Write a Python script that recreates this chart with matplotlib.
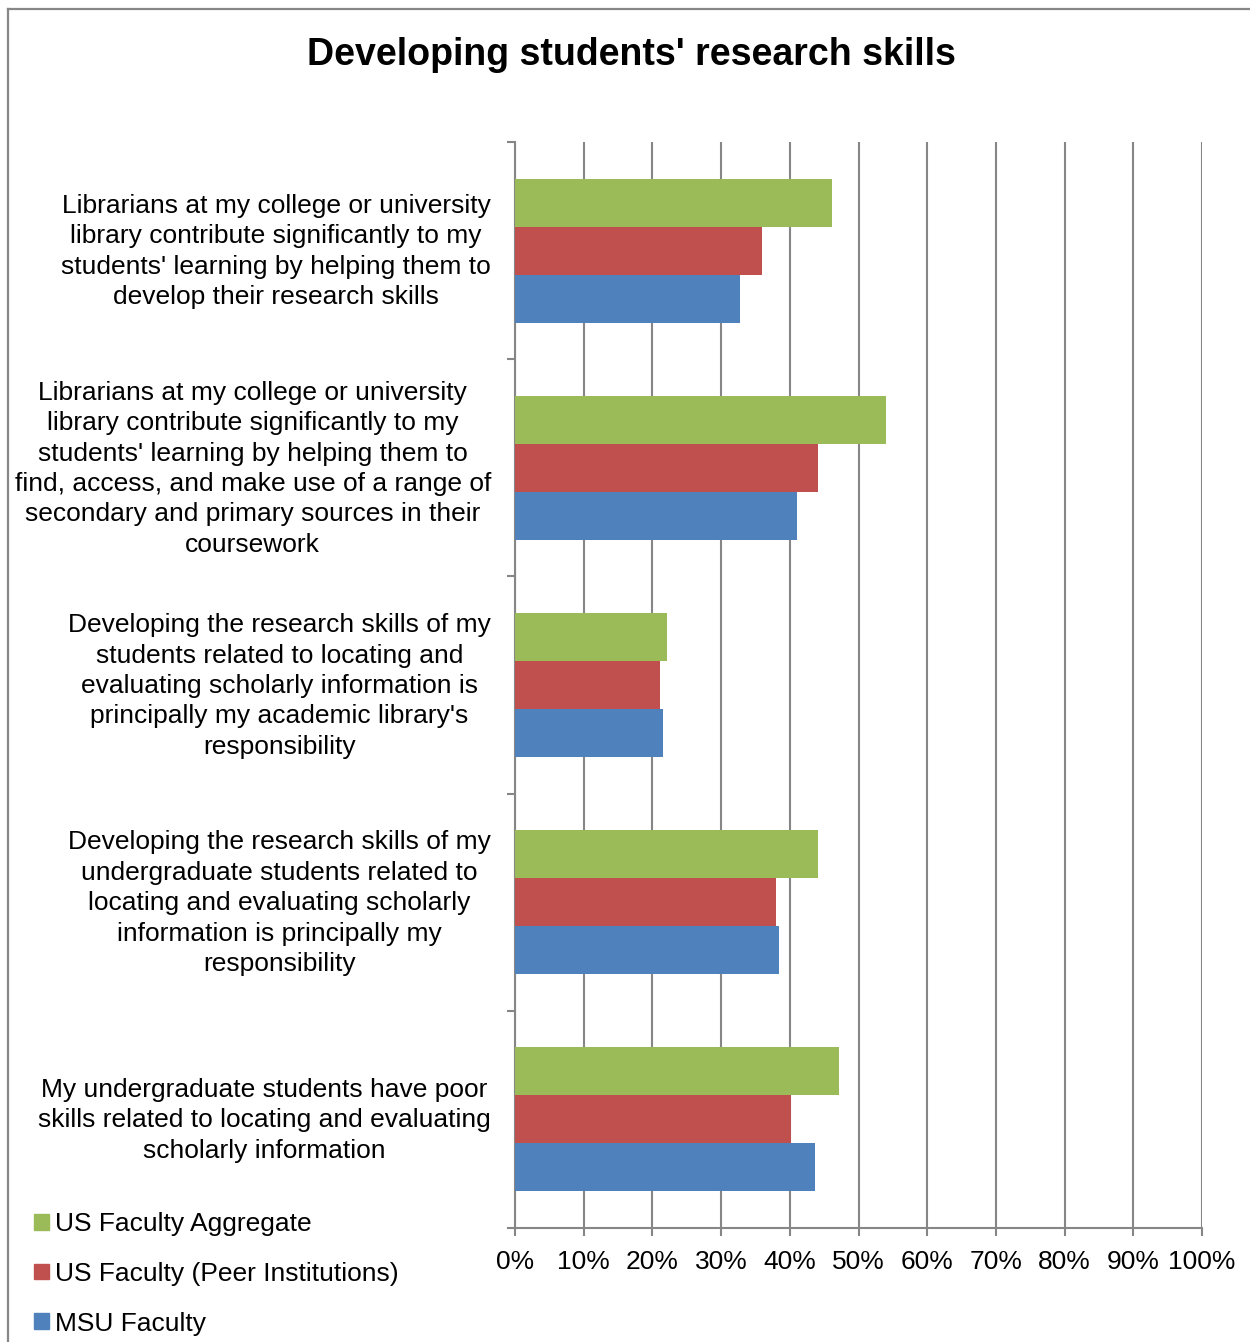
import numpy as np
import matplotlib.pyplot as plt
from matplotlib.lines import Line2D
from matplotlib.patches import Patch
from matplotlib.transforms import ScaledTranslation

plt.rcParams['font.family'] = ['Liberation Sans', 'DejaVu Sans']

categories = [
    "Librarians at my college or university\nlibrary contribute significantly to my\nstudents' learning by helping them to\ndevelop their research skills",
    "Librarians at my college or university\nlibrary contribute significantly to my\nstudents' learning by helping them to\nfind, access, and make use of a range of\nsecondary and primary sources in their\ncoursework",
    "Developing the research skills of my\nstudents related to locating and\nevaluating scholarly information is\nprincipally my academic library's\nresponsibility",
    "Developing the research skills of my\nundergraduate students related to\nlocating and evaluating scholarly\ninformation is principally my\nresponsibility",
    "My undergraduate students have poor\nskills related to locating and evaluating\nscholarly information",
]
series_names = ["US Faculty Aggregate", "US Faculty (Peer Institutions)", "MSU Faculty"]
us_aggregate = [46.1, 54.0, 22.1, 44.1, 47.2]
us_peer = [36.0, 44.1, 21.1, 38.0, 40.2]
msu = [32.7, 41.0, 21.5, 38.4, 43.7]
colors = ["#9BBB59", "#C0504D", "#4F81BD"]
xticks = [0, 10, 20, 30, 40, 50, 60, 70, 80, 90, 100]

W, H = 1250, 1342
fig = plt.figure(figsize=(W / 100, H / 100), dpi=100)
ax = fig.add_axes([515 / W, 1 - 1228 / H, (1202 - 515) / W, (1228 - 142) / H])

y = np.arange(len(categories))
h = 48 / 217
for i, (vals, c) in enumerate(zip([us_aggregate, us_peer, msu], colors)):
    ax.barh(y + (i - 1) * h, vals, height=h, color=c, label=series_names[i],
            zorder=3)

ax.set_xlim(0, 100)
ax.set_ylim(len(categories) - 0.5, -0.5)

grid_c = "#868686"
ax.set_xticks(xticks)
ax.set_xticklabels([f"{t}%" for t in xticks], fontsize=19)
ax.xaxis.grid(True, color=grid_c, linewidth=1.5, zorder=0)

ax.set_yticks(np.arange(len(categories) + 1) - 0.5)
ax.set_yticklabels([])
# category labels, right edge just left of the axis
for yi, txt in zip(y, categories):
    ax.text(-24 / 687 * 100, yi, txt, fontsize=19, ha="right", va="center",
            multialignment="center", linespacing=1.34,
            transform=ax.transData + ScaledTranslation(0, -0.01, fig.dpi_scale_trans))
ax.tick_params(axis="y", which="major", length=5.5, width=1.5, color=grid_c)
ax.tick_params(axis="x", length=5.5, width=1.5, color=grid_c, pad=10)

for s in ["top", "right"]:
    ax.spines[s].set_visible(False)
for s in ["left", "bottom"]:
    ax.spines[s].set_color(grid_c)
    ax.spines[s].set_linewidth(1.5)

fig.text(631 / W, 1 - 55 / H, "Developing students' research skills",
         fontsize=27, fontweight="bold", ha="center", va="center")

handles = [Patch(color=c) for c in colors]
fig.legend(handles, series_names, loc="upper left",
           bbox_to_anchor=(34 / W, 1 - 1212 / H), frameon=False,
           fontsize=19, handlelength=0.55, handleheight=0.55,
           handletextpad=0.25, labelspacing=0.98, borderpad=0,
           borderaxespad=0)

# outer frame (cropped at right and bottom)
fig.add_artist(Line2D([8 / W, 8 / W], [0, 1 - 9 / H], color="#878787",
                      linewidth=1.6, transform=fig.transFigure))
fig.add_artist(Line2D([8 / W, 1], [1 - 9 / H, 1 - 9 / H], color="#878787",
                      linewidth=1.6, transform=fig.transFigure))

fig.savefig("out.png", dpi=100)
